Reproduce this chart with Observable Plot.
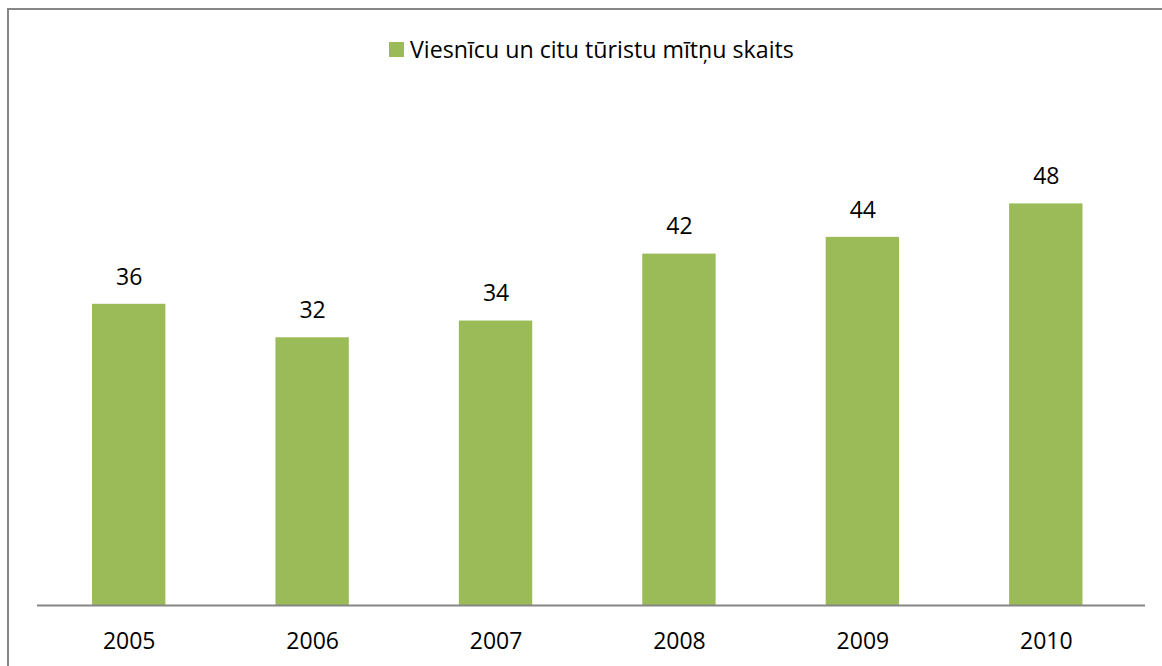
<!DOCTYPE html>
<html>
<head>
<meta charset="utf-8">
<script src="https://cdn.jsdelivr.net/npm/d3@7"></script>
<script src="https://cdn.jsdelivr.net/npm/@observablehq/plot@0.6"></script>
<style>
  body { margin: 0; background: #fff; }
  #wrap { position: relative; width: 1162px; height: 666px; overflow: hidden; background: #fff; font-family: "Open Sans", sans-serif; }
  #frame { position: absolute; left: 7px; top: 8px; width: 1200px; height: 700px; border-top: 2px solid #868686; border-left: 2px solid #868686; box-sizing: border-box; pointer-events: none; }
  #legend { position: absolute; top: 0; left: 0; width: 1162px; height: 80px; }
  #legend .item { position: absolute; left: 389px; top: 33px; display: flex; align-items: center; font-size: 23.2px; color: #000; white-space: nowrap; }
  #legend .sw { width: 15px; height: 15px; background: #9BBB59; margin-right: 6px; }
  #chart { position: absolute; top: 80px; left: 0; }
</style>
</head>
<body>
<div id="wrap">
  <div id="legend"><div class="item"><span class="sw"></span><span id="lgtext"></span></div></div>
  <div id="chart"></div>
  <div id="frame"></div>
</div>
<script>
const seriesName = "Viesnīcu un citu tūristu mītņu skaits";
const years = ["2005", "2006", "2007", "2008", "2009", "2010"];
const values = [36, 32, 34, 42, 44, 48];

document.getElementById("lgtext").textContent = seriesName;
const data = years.map((y, i) => ({year: y, value: values[i]}));

const chart = Plot.plot({
  width: 1162,
  height: 586,
  marginTop: 23,
  marginBottom: 61,
  marginLeft: 37,
  marginRight: 17,
  style: {fontFamily: "'Open Sans', sans-serif", background: "transparent"},
  x: {domain: years, range: [37, 1137.5], paddingInner: 0.6, paddingOuter: 0.3, round: false, label: null},
  y: {domain: [0, 60], axis: null},
  marks: [
    Plot.barY(data, {x: "year", y: "value", fill: "#9BBB59"}),
    Plot.ruleY([0], {stroke: "#868686", strokeWidth: 2}),
    Plot.text(data, {x: "year", y: "value", text: d => String(d.value), dy: -27, fontSize: 23, fill: "#000"}),
    Plot.axisX({tickSize: 0, tickPadding: 27, fontSize: 23, label: null, fill: "#000"})
  ]
});
document.getElementById("chart").appendChild(chart);
</script>
</body>
</html>
